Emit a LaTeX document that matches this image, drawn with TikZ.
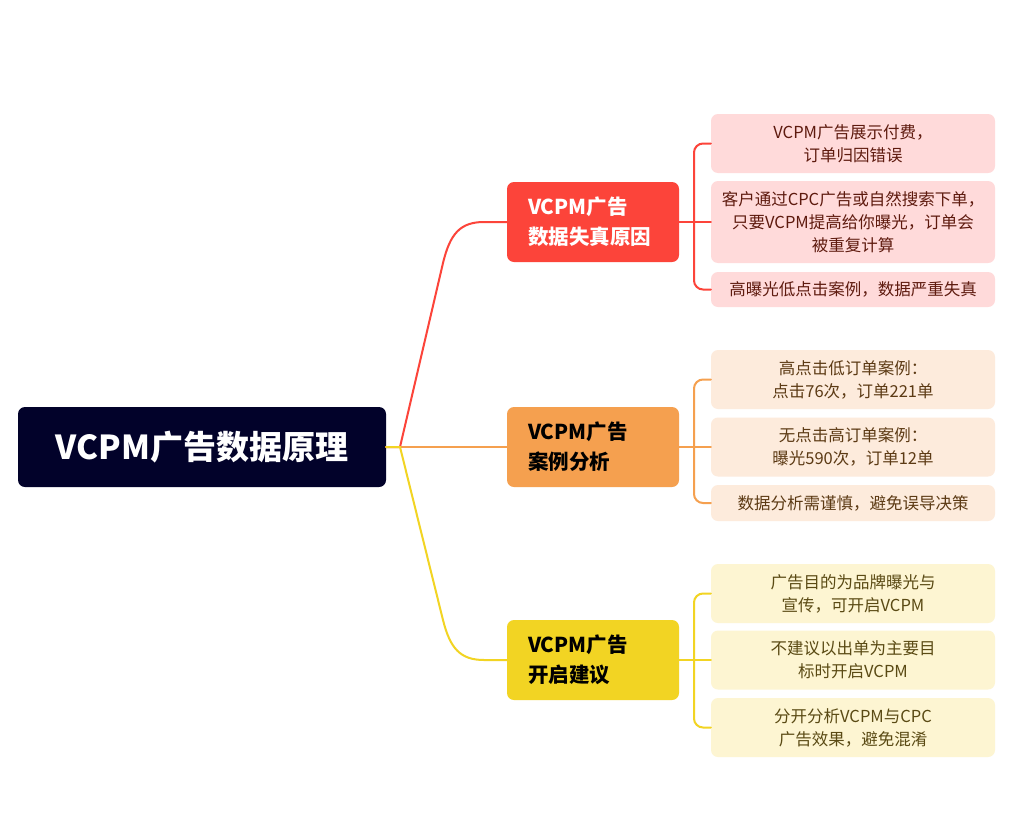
\documentclass[tikz,border=0pt]{standalone}
\usepackage{fontspec}
\setmainfont{Noto Sans CJK SC}
\definecolor{rootc}{HTML}{02022A}
\definecolor{redc}{HTML}{FC443A}
\definecolor{orac}{HTML}{F5A04F}
\definecolor{yelc}{HTML}{F2D423}
\definecolor{redleaf}{HTML}{FFDADA}
\definecolor{oraleaf}{HTML}{FDEBDC}
\definecolor{yelleaf}{HTML}{FDF5D2}
\definecolor{redtxt}{HTML}{5E1A0E}
\definecolor{oratxt}{HTML}{5C3A14}
\definecolor{yeltxt}{HTML}{5A4A14}
\begin{document}
\begin{tikzpicture}[x=1pt,y=-1pt,
  rootbox/.style={rectangle,rounded corners=7pt,fill=rootc,text=white,minimum width=368pt,minimum height=80pt,inner sep=0pt,font=\fontsize{33}{38}\selectfont\bfseries},
  branchbox/.style={rectangle,rounded corners=7pt,minimum height=80pt,inner xsep=21pt,inner ysep=0pt,text width=130pt,align=left,font=\fontsize{20.5}{30}\selectfont\bfseries},
  leafbox/.style={rectangle,rounded corners=7pt,minimum width=284pt,inner sep=0pt,align=center,font=\fontsize{16.5}{23}\selectfont},
  conn/.style={line width=2pt,line cap=round}
]
\useasboundingbox (0,0) rectangle (1023,822);
\fill[white] (0,0) rectangle (1023,822);

% root and branches
\node[rootbox] (root) at (202,447) {VCPM广告数据原理};
\node[branchbox,fill=redc,text=white] (b1) at (593,222) {VCPM广告\\数据失真原因};
\node[branchbox,fill=orac,text=black] (b2) at (593,447) {VCPM广告\\案例分析};
\node[branchbox,fill=yelc,text=black] (b3) at (593,660) {VCPM广告\\开启建议};

% leaves red
\node[leafbox,fill=redleaf,text=redtxt,minimum height=59pt] (l11) at (853,143.5) {VCPM广告展示付费，\\订单归因错误};
\node[leafbox,fill=redleaf,text=redtxt,minimum height=82pt] (l12) at (853,222) {客户通过CPC广告或自然搜索下单，\\只要VCPM提高给你曝光，订单会\\被重复计算};
\node[leafbox,fill=redleaf,text=redtxt,minimum height=35pt] (l13) at (853,289.5) {高曝光低点击案例，数据严重失真};
% leaves orange
\node[leafbox,fill=oraleaf,text=oratxt,minimum height=59pt] (l21) at (853,379.5) {高点击低订单案例：\\点击76次，订单221单};
\node[leafbox,fill=oraleaf,text=oratxt,minimum height=59pt] (l22) at (853,447) {无点击高订单案例：\\曝光590次，订单12单};
\node[leafbox,fill=oraleaf,text=oratxt,minimum height=36pt] (l23) at (853,503) {数据分析需谨慎，避免误导决策};
% leaves yellow
\node[leafbox,fill=yelleaf,text=yeltxt,minimum height=59pt] (l31) at (853,593.5) {广告目的为品牌曝光与\\宣传，可开启VCPM};
\node[leafbox,fill=yelleaf,text=yeltxt,minimum height=59pt] (l32) at (853,660) {不建议以出单为主要目\\标时开启VCPM};
\node[leafbox,fill=yelleaf,text=yeltxt,minimum height=59pt] (l33) at (853,727.5) {分开分析VCPM与CPC\\广告效果，避免混淆};

% hub and junctions
\coordinate (hub) at (400,447);
\coordinate (j1) at (694,222);
\coordinate (j2) at (694,447);
\coordinate (j3) at (694,660);

% root to branches
\draw[conn,redc] (root.east) -- (hub) -- (443,263) .. controls (450,234) and (460,222) .. (484,222) -- (b1.west);
\draw[conn,orac] (root.east) -- (hub) -- (b2.west);
\draw[conn,yelc] (root.east) -- (hub) -- (443,620) .. controls (450,648) and (460,660) .. (484,660) -- (b3.west);

% branch to leaves
\draw[conn,redc] (b1.east) -- (l12.west);
\draw[conn,redc,rounded corners=9pt] (l11.west) -| (j1) |- (l13.west);
\draw[conn,orac] (b2.east) -- (l22.west);
\draw[conn,orac,rounded corners=9pt] (l21.west) -| (j2) |- (l23.west);
\draw[conn,yelc] (b3.east) -- (l32.west);
\draw[conn,yelc,rounded corners=9pt] (l31.west) -| (j3) |- (l33.west);
\end{tikzpicture}
\end{document}
